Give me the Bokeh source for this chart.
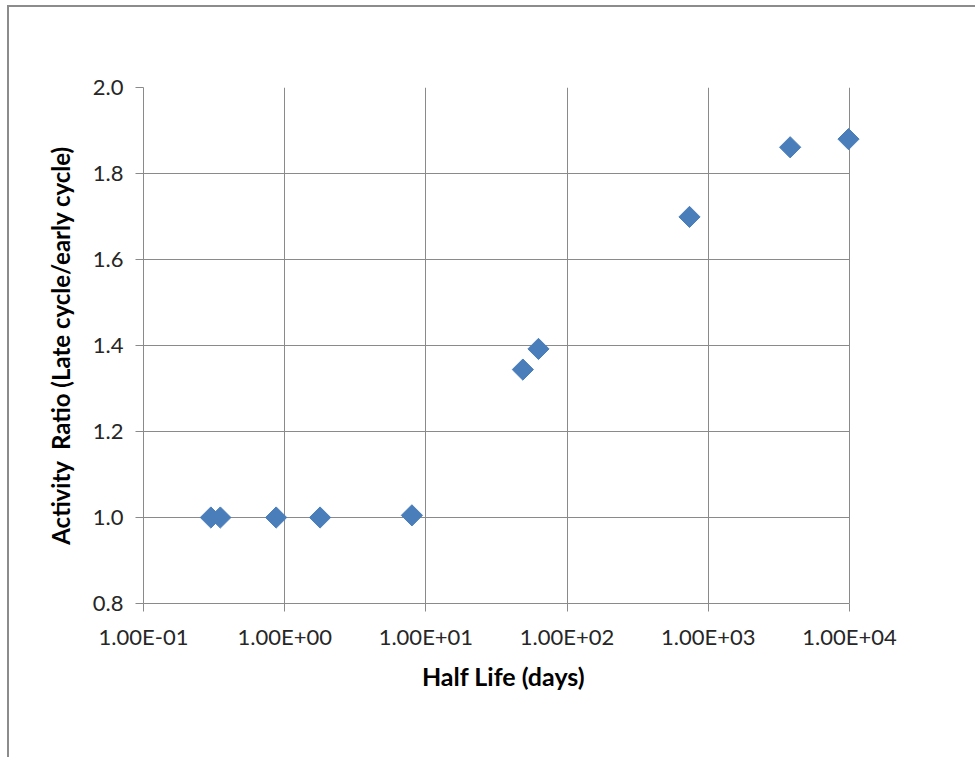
from bokeh.plotting import figure
from bokeh.models import FixedTicker, CustomJSTickFormatter, PrintfTickFormatter, Range1d
from bokeh.embed import file_html
from bokeh.resources import INLINE

# Half life of each nuclide (days) and its late-cycle / early-cycle activity ratio
half_life = [0.30, 0.35, 0.87, 1.78, 7.96, 48.6, 62.7, 736.0, 3800.0, 9840.0]
activity_ratio = [1.000, 1.000, 1.000, 1.000, 1.005, 1.344, 1.392, 1.699, 1.861, 1.880]

x_ticks = [0.1, 1, 10, 100, 1000, 10000]
y_ticks = [0.8, 1.0, 1.2, 1.4, 1.6, 1.8, 2.0]

FONT = "Lato"
GRID = "#8a8a8a"
MARKER = "#4A7EBB"

# the data area ends at 1e4; a little room is kept to its right so that the
# last marker is not cut off by the frame
DECADE_PX = 141.2
PAD_PX = 14
x_end = 10000 * 10 ** (PAD_PX / DECADE_PX)

p = figure(
    width=968, height=752,
    x_axis_type="log",
    x_range=Range1d(0.1, x_end), y_range=Range1d(0.8, 2.0),
    output_backend="svg", toolbar_location=None,
    min_border_left=134, min_border_right=968 - 134 - 706 - PAD_PX,
    min_border_top=80, min_border_bottom=156,
)
p.styles = {
    "position": "absolute", "left": "7px", "top": "5px",
    "border-left": "2px solid #8c8c8c", "border-top": "2px solid #8c8c8c",
}
p.outline_line_color = None
p.background_fill_color = "white"
p.border_fill_color = "white"

# x axis: decades in scientific notation
p.xaxis.ticker = FixedTicker(ticks=x_ticks, minor_ticks=[])
p.xaxis.bounds = (x_ticks[0], x_ticks[-1])
p.xaxis.formatter = CustomJSTickFormatter(code="""
    const e = Math.round(Math.log10(tick));
    const m = tick / Math.pow(10, e);
    const a = Math.abs(e);
    return m.toFixed(2) + 'E' + (e < 0 ? '-' : '+') + (a < 10 ? '0' : '') + a;
""")
p.yaxis.ticker = FixedTicker(ticks=y_ticks, minor_ticks=[])
p.yaxis.formatter = PrintfTickFormatter(format="%.1f")

p.xaxis.axis_label = "Half Life (days)"
p.yaxis.axis_label = "Activity\u00a0 Ratio (Late cycle/early cycle)"

for ax in (p.xaxis, p.yaxis):
    ax.axis_line_color = GRID
    ax.major_tick_line_color = GRID
    ax.major_tick_out = 8
    ax.major_tick_in = 0
    ax.minor_tick_line_color = None
    ax.major_label_text_font = FONT
    ax.major_label_text_font_size = "22px"
    ax.major_label_text_color = "#262626"
    ax.axis_label_text_font = FONT
    ax.axis_label_text_font_style = "bold"
    ax.axis_label_text_color = "#000000"

p.xaxis.axis_label_text_font_size = "25px"
p.yaxis.axis_label_text_font_size = "24px"
p.xaxis.major_label_standoff = 11
p.yaxis.major_label_standoff = 12
p.xaxis.axis_label_standoff = 8
p.yaxis.axis_label_standoff = 15

p.xgrid.ticker = FixedTicker(ticks=x_ticks, minor_ticks=[])
p.ygrid.ticker = FixedTicker(ticks=y_ticks, minor_ticks=[])
p.grid.grid_line_color = GRID
p.grid.grid_line_width = 1
ygrid = p.ygrid[0]
if "cross_bounds" in ygrid.properties():
    ygrid.cross_bounds = (x_ticks[0], x_ticks[-1])

p.scatter(half_life, activity_ratio, marker="square", size=15, angle=0.785398,
          fill_color=MARKER, line_color=MARKER)

open("out.html", "w").write(file_html(p, INLINE))
